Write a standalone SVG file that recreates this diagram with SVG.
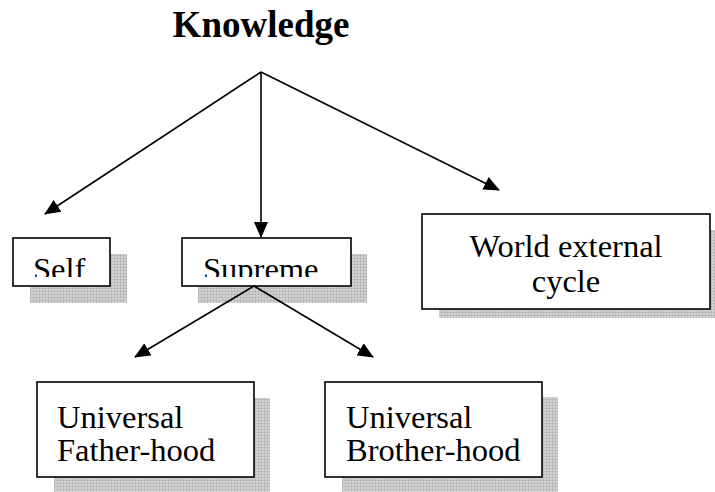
<svg xmlns="http://www.w3.org/2000/svg" width="715" height="492" viewBox="0 0 715 492">
<style>
.box{fill:#fff;stroke:#000;stroke-width:1.6}
.shadow{fill:url(#grid)}
.lbl{font-family:"Liberation Serif","Times New Roman",serif;font-size:32.5px;fill:#000}
.title{font-family:"Liberation Serif","Times New Roman",serif;font-size:37px;font-weight:bold;fill:#000}
.conn{stroke:#000;stroke-width:1.6;fill:none;marker-end:url(#arrow)}
</style>
<defs>
<pattern id="grid" width="3" height="3" patternUnits="userSpaceOnUse">
<rect width="3" height="3" fill="#d2d2d2"/>
<path d="M0 0.25H3M0.25 0V3" stroke="#9c9c9c" stroke-width="0.5"/>
</pattern>
<marker id="arrow" markerUnits="userSpaceOnUse" markerWidth="16" markerHeight="14" refX="15" refY="7" orient="auto">
<path d="M0 0L16 7L0 14Z" fill="#000"/>
</marker>
<clipPath id="clipSelf"><rect x="13" y="238" width="97" height="39"/></clipPath>
<clipPath id="clipSupreme"><rect x="182" y="238" width="169" height="39"/></clipPath>
</defs>
<text class="title" x="261" y="37" text-anchor="middle">Knowledge</text>
<g id="self">
<rect class="shadow" x="30" y="254" width="97" height="49"/>
<rect class="box" x="13" y="238" width="97" height="48"/>
<text class="lbl" x="33" y="280" clip-path="url(#clipSelf)">Self</text>
</g>
<g id="supreme">
<rect class="shadow" x="198" y="254" width="169" height="49"/>
<rect class="box" x="182" y="238" width="169" height="48"/>
<text class="lbl" x="203" y="280" clip-path="url(#clipSupreme)">Supreme</text>
</g>
<g id="world">
<rect class="shadow" x="439" y="230" width="288" height="88"/>
<rect class="box" x="422" y="214" width="288" height="95"/>
<text class="lbl" x="566" y="257" text-anchor="middle">World external</text>
<text class="lbl" x="566" y="292" text-anchor="middle">cycle</text>
</g>
<g id="fatherhood">
<rect class="shadow" x="54" y="398" width="216" height="94"/>
<rect class="box" x="37" y="382" width="217" height="95"/>
<text class="lbl" x="57" y="428">Universal</text>
<text class="lbl" x="57" y="461">Father-hood</text>
</g>
<g id="brotherhood">
<rect class="shadow" x="342" y="397" width="216" height="95"/>
<rect class="box" x="325" y="382" width="217" height="95"/>
<text class="lbl" x="346" y="428">Universal</text>
<text class="lbl" x="346" y="461">Brother-hood</text>
</g>
<g id="connectors">
<path class="conn" d="M261 72L45 214"/>
<path class="conn" d="M261 72L261 237"/>
<path class="conn" d="M261 72L499 190"/>
<path class="conn" d="M254 286L135 357"/>
<path class="conn" d="M254 286L373 357"/>
</g>
</svg>
